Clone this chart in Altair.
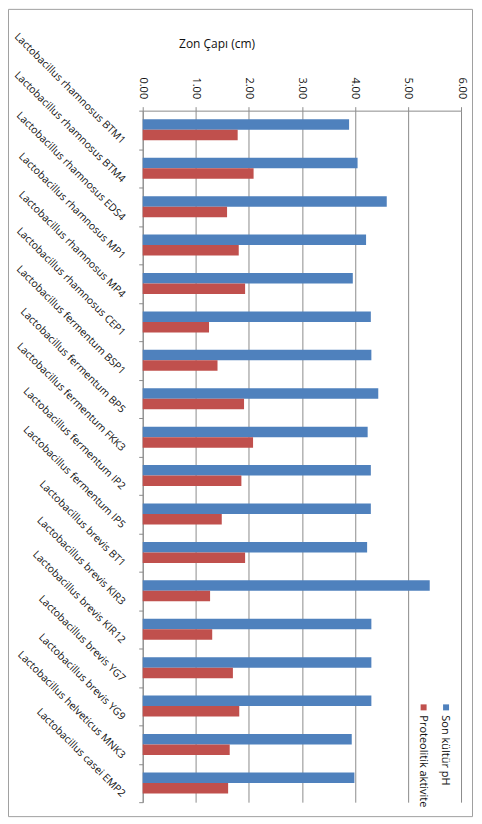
import altair as alt
import pandas as pd

categories = [
    "Lactobacillus rhamnosus BTM1",
    "Lactobacillus rhamnosus BTM4",
    "Lactobacillus rhamnosus EDS4",
    "Lactobacillus rhamnosus MP1",
    "Lactobacillus rhamnosus MP4",
    "Lactobacillus rhamnosus CEP1",
    "Lactobacillus fermentum BSP1",
    "Lactobacillus fermentum BP5",
    "Lactobacillus fermentum FKK3",
    "Lactobacillus fermentum IP2",
    "Lactobacillus fermentum IP5",
    "Lactobacillus brevis BT1",
    "Lactobacillus brevis KIR3",
    "Lactobacillus brevis KIR12",
    "Lactobacillus brevis YG7",
    "Lactobacillus brevis YG9",
    "Lactobacillus helveticus MNK3",
    "Lactobacillus casei EMP2",
]
series_names = ["Son kültür pH", "Proteolitik aktivite"]
son_kultur_ph = [3.89, 4.05, 4.60, 4.21, 3.96, 4.30, 4.31, 4.44, 4.24, 4.30,
                 4.30, 4.23, 5.41, 4.31, 4.31, 4.31, 3.94, 3.99]
proteolitik = [1.79, 2.09, 1.59, 1.81, 1.93, 1.25, 1.41, 1.91, 2.08, 1.86,
               1.49, 1.93, 1.27, 1.31, 1.70, 1.82, 1.64, 1.61]
x_ticks = [0, 1, 2, 3, 4, 5, 6]
colors = ["#4F81BD", "#C0504D"]

rows = []
for c, a, b in zip(categories, son_kultur_ph, proteolitik):
    rows.append({"category": c, "series": series_names[0], "value": a})
    rows.append({"category": c, "series": series_names[1], "value": b})
df = pd.DataFrame(rows)

FONT = "Open Sans"
GRID = "#8c8c8c"

bars = alt.Chart(df).mark_bar().encode(
    x=alt.X(
        "value:Q",
        scale=alt.Scale(domain=[0, 6], nice=False),
        axis=alt.Axis(
            orient="top", values=x_ticks, format=".2f",
            labelAngle=90, labelAlign="right", labelBaseline="middle",
            labelPadding=8, tickSize=4,
            title="Zon Çapı (cm)", titleX=74, titleY=-67, titleAlign="center",
            titleBaseline="middle", titleAngle=0, titleFontSize=12,
            titleFontWeight="normal", titleFont=FONT, titleColor="#111",
            grid=True, gridColor=GRID, domainColor=GRID, tickColor=GRID,
        ),
    ),
    y=alt.Y(
        "category:N", sort=categories,
        scale=alt.Scale(paddingInner=0, paddingOuter=0),
        axis=alt.Axis(
            title=None, tickBand="extent", labelAngle=45,
            labelAlign="right", labelBaseline="middle", labelPadding=16,
            labelOffset=12, labelFontSize=10.5,
            tickSize=4, labelLimit=300, grid=False,
            domainColor=GRID, tickColor=GRID,
        ),
    ),
    yOffset=alt.YOffset(
        "series:N", sort=series_names,
        scale=alt.Scale(paddingInner=0, paddingOuter=0.83),
    ),
    color=alt.Color(
        "series:N",
        scale=alt.Scale(domain=series_names, range=colors),
        legend=None,
    ),
)

one = pd.DataFrame({"k": [0]})
frame = alt.Chart(one).mark_rect(fillOpacity=0, stroke="#a0a0a0", strokeWidth=1).encode(
    x=alt.value(-134.5), x2=alt.value(330.5), y=alt.value(-101.5), y2=alt.value(707.5)
)

leg = pd.DataFrame({"series": series_names})
legend_layers = []
for i, (sx, tx) in enumerate([(304, 303), (281.5, 281)]):
    d = leg.iloc[[i]]
    legend_layers.append(
        alt.Chart(d).mark_square(size=36, opacity=1).encode(
            x=alt.value(sx), y=alt.value(598), color=alt.value(colors[i])
        )
    )
    legend_layers.append(
        alt.Chart(d).mark_text(angle=90, align="left", baseline="middle",
                               font=FONT, fontSize=11, color="#111").encode(
            x=alt.value(tx), y=alt.value(606), text="series:N"
        )
    )

chart = alt.layer(frame, bars, *legend_layers).properties(
    width=319, height=693,
    autosize=alt.AutoSizeParams(type="none"),
    padding={"left": 135, "top": 102, "right": 13, "bottom": 15},
).configure_axis(
    labelFont=FONT, labelFontSize=11, labelColor="#111",
).configure_view(stroke=None)

chart.save("out.html", embed_options={"renderer": "svg", "actions": False})
